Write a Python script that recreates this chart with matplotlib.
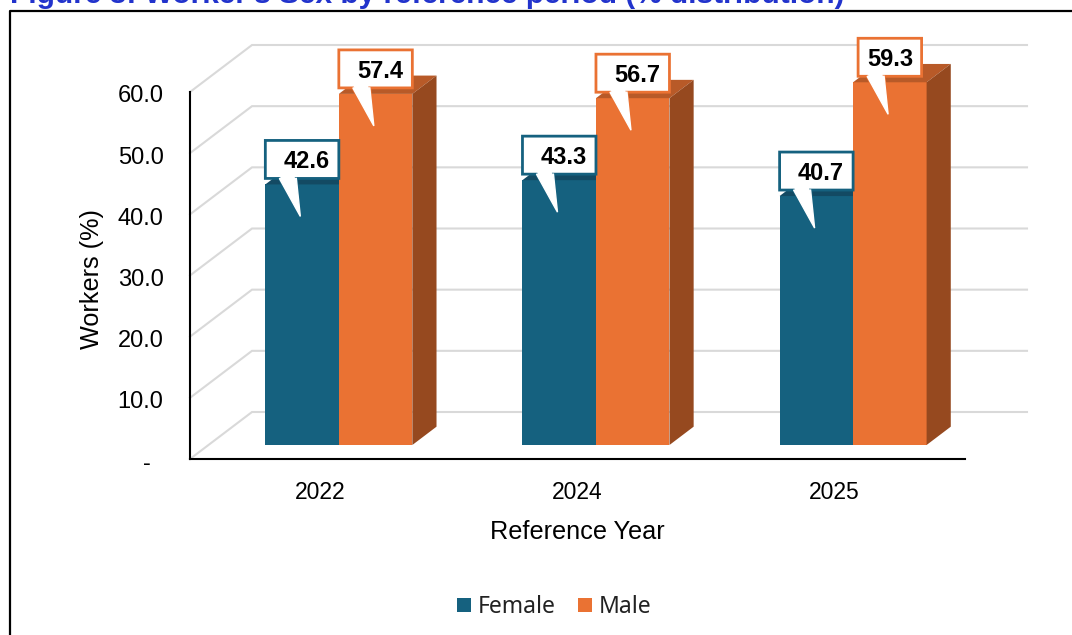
import matplotlib
matplotlib.use('Agg')
import matplotlib.pyplot as plt
from matplotlib.lines import Line2D
from matplotlib.patches import Polygon
from matplotlib.transforms import ScaledTranslation

years = ['2022', '2024', '2025']
female = [42.6, 43.3, 40.7]
male = [57.4, 56.7, 59.3]
yticks = [0, 10, 20, 30, 40, 50, 60]
ytick_labels = ['-  ', '10.0', '20.0', '30.0', '40.0', '50.0', '60.0']

BLUE, BLUE_TOP = '#15617f', '#134a63'
ORANGE, ORANGE_TOP, ORANGE_SIDE = '#ea7233', '#b85a28', '#96491f'
GRID = '#d9d9d9'

plt.rcParams['font.family'] = ['Liberation Sans', 'DejaVu Sans']

W, H = 1072, 635
X_LO, X_HI = -0.507, 2.507
fig = plt.figure(figsize=(W / 100, H / 100), dpi=100)
ax = fig.add_axes([190 / W, (H - 459) / H, 775 / W, 367 / H])
ax.set_xlim(X_LO, X_HI)
ax.set_ylim(0, 60)
ax.patch.set_alpha(0)

# size of one pixel in data units
px_x = (X_HI - X_LO) / 775
px_y = 60 / 367

# oblique depth of the fake 3d box
depth_x = 62 * px_x
depth_y = 47 * px_y
bar_w = 73.5 * px_x
front = 14 / 47
bar_depth = 0.39


def proj(x, y, d):
    return (x + d * depth_x, y + d * depth_y)


# walls and gridlines
for t in yticks:
    ax.plot([X_LO, X_LO + depth_x, X_HI + depth_x], [t, t + depth_y, t + depth_y],
            color=GRID, lw=1.5, clip_on=False, zorder=1, solid_joinstyle='miter')


def draw_bar(x, v, color, top_color, side_color):
    bar = ax.bar(x + front * depth_x, v, bar_w, bottom=front * depth_y, color=color,
                 zorder=3, clip_on=False)
    x0, x1 = x - bar_w / 2, x + bar_w / 2
    d0, d1 = front, front + bar_depth
    top = [proj(x0, v, d0), proj(x1, v, d0), proj(x1, v, d1), proj(x0, v, d1)]
    ax.add_patch(Polygon(top, closed=True, fc=top_color, ec='none', zorder=3, clip_on=False))
    if side_color:
        side = [proj(x1, 0, d0), proj(x1, v, d0), proj(x1, v, d1), proj(x1, 0, d1)]
        ax.add_patch(Polygon(side, closed=True, fc=side_color, ec='none', zorder=3, clip_on=False))
    return bar


def callout(x, v, label, color, inset=0):
    # speech bubble sitting on the bar top, inset narrows the last one
    xl = x - bar_w / 2 + front * depth_x
    xr = xl + bar_w
    base = v + front * depth_y
    y0 = base + 6 * px_y
    y1 = base + 44 * px_y
    pts = [(xl + inset * px_x, y0), (xl + 14 * px_x, y0), (xl + 35 * px_x, base - 32 * px_y),
           (xl + 31 * px_x, y0), (xr - inset * px_x, y0), (xr - inset * px_x, y1),
           (xl + inset * px_x, y1)]
    ax.add_patch(Polygon(pts, closed=True, fc='white', ec=color, lw=2, zorder=5,
                         clip_on=False, joinstyle='miter'))
    # white tail covers the border on the bubble's bottom edge
    ax.add_patch(Polygon([pts[1], pts[2], pts[3]], closed=True, fc='white', ec='white', lw=1,
                         zorder=6, clip_on=False))
    shift = 0 if inset else 4.5
    ax.text((xl + xr) / 2 + shift * px_x, (y0 + y1) / 2 - 2.5 * px_y, label, ha='center', va='center',
            fontsize=17, fontweight='bold', color='black', zorder=7)


handles = {}
for i in range(len(years)):
    xf = i - bar_w / 2
    xm = i + bar_w / 2
    handles['Female'] = draw_bar(xf, female[i], BLUE, BLUE_TOP, None)
    handles['Male'] = draw_bar(xm, male[i], ORANGE, ORANGE_TOP, ORANGE_SIDE)
    callout(xf, female[i], '%.1f' % female[i], BLUE)
    callout(xm, male[i], '%.1f' % male[i], ORANGE, inset=5 if i == 2 else 0)

for s in ['top', 'right']:
    ax.spines[s].set_visible(False)
for s in ['left', 'bottom']:
    ax.spines[s].set_linewidth(1.5)
    ax.spines[s].set_color('black')
    ax.spines[s].set_zorder(4)

ax.set_xticks(range(len(years)))
ax.set_xticklabels(years, fontsize=16.5)
ax.set_yticks(yticks)
ax.set_yticklabels(ytick_labels, fontsize=17)
ax.tick_params(axis='both', length=0, colors='black')
ax.tick_params(axis='x', pad=16)
ax.tick_params(axis='y', pad=19)

# tick labels sit a little below the gridline ends
nudge = ScaledTranslation(0, -2 / 100, fig.dpi_scale_trans)
for lab in ax.get_yticklabels():
    lab.set_transform(lab.get_transform() + nudge)

fig.text(577 / W, (H - 532) / H, 'Reference Year', ha='center', va='center', fontsize=18.2)
fig.text(92 / W, (H - 279) / H, 'Workers (%)', ha='center', va='center', rotation=90, fontsize=18.2)

fig.legend([handles['Female'], handles['Male']], ['Female', 'Male'], loc='center',
           bbox_to_anchor=(554 / W, (H - 607) / H), ncol=2, frameon=False,
           prop={'family': 'Noto Sans', 'size': 16.5}, handlelength=0.62, handleheight=0.62,
           handletextpad=0.3, columnspacing=0.95, labelcolor='#222222')

# frame of the document box and the clipped caption above it
fig.add_artist(Line2D([10 / W, 10 / W, 1], [0, (H - 11) / H, (H - 11) / H], color='black', lw=1.6))
fig.text(10 / W, (H - 3) / H, "Figure 3: Worker's Sex by reference period (% distribution)",
         ha='left', va='baseline', fontsize=21.5, fontweight='bold', color='#2233cc')

fig.savefig('out.png', dpi=100)
